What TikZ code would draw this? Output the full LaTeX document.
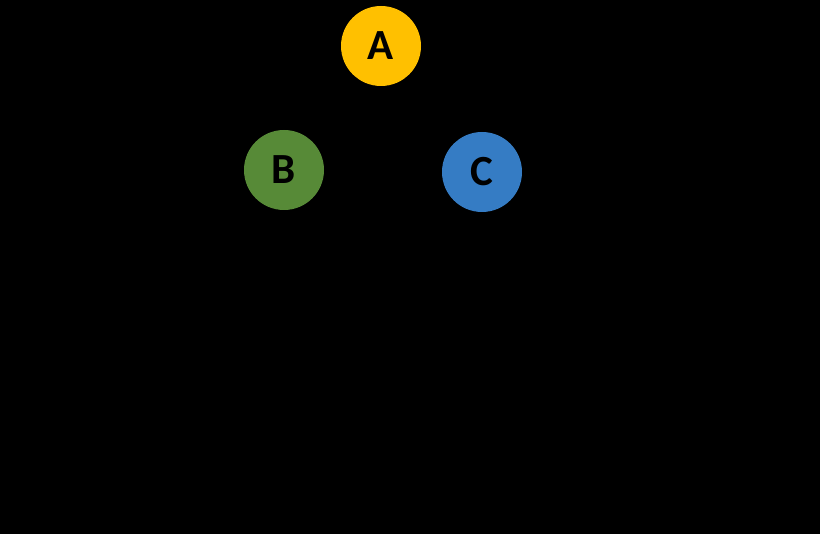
\documentclass[tikz,border=0pt]{standalone}
\usepackage{fontspec}
\setmainfont{Carlito}
\usetikzlibrary{positioning}

\definecolor{ayellow}{HTML}{FFC000}
\definecolor{bgreen}{HTML}{578A37}
\definecolor{cblue}{HTML}{357CC4}

\tikzset{
  letter/.style={circle, minimum size=80pt, inner sep=0pt,
    font=\fontsize{43}{43}\selectfont\bfseries, text=black},
  edge/.style={draw=black, line width=3pt}
}

\begin{document}
\begin{tikzpicture}[x=1pt, y=1pt, on grid]
        \fill[black] (0,0) rectangle (820,-534);
        \useasboundingbox (0,0) rectangle (820,-534);
        \node(A) [letter, fill=ayellow] at (381,-46) {A};
        \node(B) [letter, fill=bgreen, below left=124pt and 97pt of A] {B};
        \node(C) [letter, fill=cblue, below right=126pt and 101pt of A] {C};
        \draw[edge] (A) -- (B);
        \draw[edge] (A) -- (C);
    \end{tikzpicture}
\end{document}
